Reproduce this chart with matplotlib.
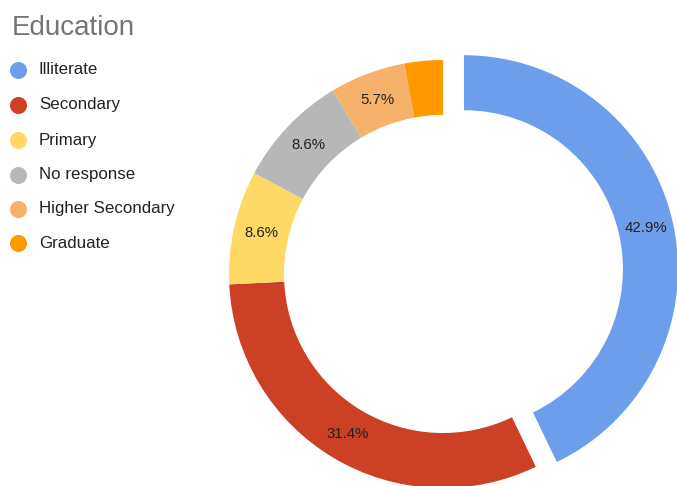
import matplotlib
matplotlib.use("Agg")
import matplotlib.pyplot as plt

plt.rcParams['font.family'] = ['Liberation Sans', 'DejaVu Sans']

# Survey responses by education level
categories = ["Illiterate", "Secondary", "Primary", "No response",
              "Higher Secondary", "Graduate"]
shares = [42.9, 31.4, 8.6, 8.6, 5.7, 2.9]
colors = ["#6d9eeb", "#cc4125", "#ffd966", "#b7b7b7", "#f6b26b", "#ff9900"]
explode_px = [21.5, 0, 0, 0, 0, 0]

W, H = 677, 486
fig = plt.figure(figsize=(W / 100, H / 100), dpi=100)
ax = fig.add_axes([0, 0, 1, 1])

# donut geometry in pixel units
cx, cy = 443, H - 274
r_out, r_in = 214, 159
radius_mid = (r_out + r_in) / 2

def pct_label(p):
    return f"{p:.1f}%" if p >= 5 else ""

wedges, _, autotexts = ax.pie(
    shares, colors=colors, startangle=90, counterclock=False,
    center=(cx, cy), radius=r_out, explode=explode_px,
    wedgeprops=dict(width=r_out - r_in, linewidth=0),
    autopct=pct_label, pctdistance=radius_mid / r_out,
    textprops=dict(fontsize=10.8, color="#222222"), frame=True)

ax.set_xlim(0, W)
ax.set_ylim(0, H)
ax.set_aspect("equal")
ax.axis("off")

# title
ax.text(12, H - 35, "Education", fontsize=20, color="#757575",
        ha="left", va="baseline")

# legend
legend_y = [70, 105, 140, 175, 209, 243]
for name, col, y in zip(categories, colors, legend_y):
    ax.scatter([18], [H - y], s=150, color=col, linewidths=0)
    ax.text(39, H - y, name, fontsize=12.2, color="#222222",
            ha="left", va="center")

fig.savefig("out.png", dpi=100)
